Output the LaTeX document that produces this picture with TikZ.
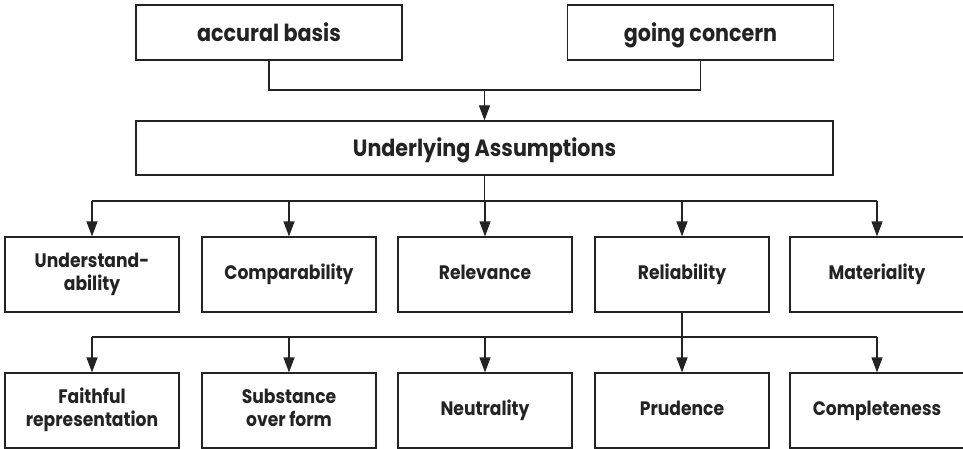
\documentclass[tikz,border=0pt]{standalone}
\usepackage{fontspec}
\setmainfont{Poppins}[FakeStretch=0.88]
\usetikzlibrary{arrows.meta}
\definecolor{ink}{RGB}{35,35,35}

\begin{document}
\begin{tikzpicture}[x=1pt, y=-1pt, line width=1.2pt, draw=ink, text=ink,
  font=\bfseries\fontsize{19.5}{23}\selectfont,
  box/.style={draw, minimum width=174pt, minimum height=75pt, align=center, inner sep=0pt,
    text height=14pt, text depth=5pt},
  twoline/.style={box, text height=37pt},
  topbox/.style={draw, minimum width=266pt, minimum height=55pt, inner sep=0pt,
    text height=23pt, text depth=5pt, font=\bfseries\fontsize{23.5}{27}\selectfont},
  arr/.style={-{Triangle[length=15pt, width=11pt]}}]
  \useasboundingbox (0,0) rectangle (963,449);
  % assumptions
  \node[topbox] (accural) at (269,32.5) {accural basis};
  \node[topbox] (going) at (700.5,32.5) {going concern};
  \node[topbox, minimum width=697pt, minimum height=54pt] (under) at (484.5,148) {Underlying Assumptions};
  \coordinate (join) at (484.5,90);
  \draw (accural.south) |- (join) -| (going.south);
  \draw[arr] (join) -- (under.north);
  % qualitative characteristics
  \node[twoline] (underst) at (92,274.5) {Understand-\\ability};
  \node[box] (compar) at (289,274.5) {Comparability};
  \node[box] (relev) at (485,274.5) {Relevance};
  \node[box] (reliab) at (682,274.5) {Reliability};
  \node[box] (mater) at (877,274.5) {Materiality};
  \coordinate (fork) at (484.5,201);
  \draw (under.south) -- (fork);
  \draw (underst.north |- fork) -- (mater.north |- fork);
  \foreach \n in {underst,compar,relev,reliab,mater}
    \draw[arr] (\n.north |- fork) -- (\n.north);
  % components of reliability
  \node[twoline] (faith) at (92,410.5) {Faithful\\representation};
  \node[twoline] (subst) at (289,410.5) {Substance\\over form};
  \node[box] (neutr) at (485,410.5) {Neutrality};
  \node[box] (prud) at (682,410.5) {Prudence};
  \node[box] (compl) at (877,410.5) {Completeness};
  \coordinate (fork2) at (682,337);
  \draw (reliab.south) -- (fork2);
  \draw (faith.north |- fork2) -- (compl.north |- fork2);
  \foreach \n in {faith,subst,neutr,prud,compl}
    \draw[arr] (\n.north |- fork2) -- (\n.north);
\end{tikzpicture}
\end{document}
